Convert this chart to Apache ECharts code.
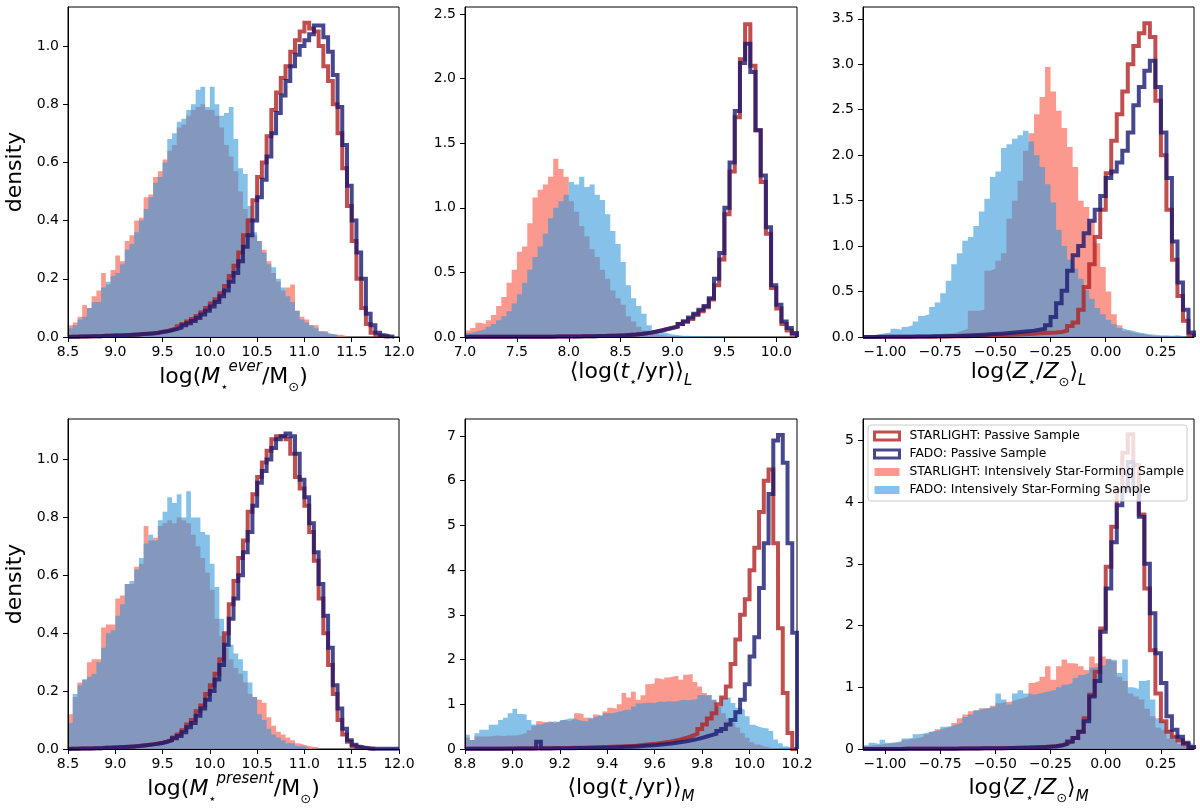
<!DOCTYPE html>
<html>
<head>
<meta charset="utf-8">
<script src="https://cdn.jsdelivr.net/npm/echarts@6/dist/echarts.min.js"></script>
<style>
html,body{margin:0;padding:0;background:#ffffff;}
#chart{width:1200px;height:808px;}
</style>
</head>
<body>
<div id="chart"></div>
<script>
// ================= DATA =================
// Series names
const nameSlPassive = 'STARLIGHT: Passive Sample';
const nameFaPassive = 'FADO: Passive Sample';
const nameSlSF = 'STARLIGHT: Intensively Star-Forming Sample';
const nameFaSF = 'FADO: Intensively Star-Forming Sample';

// ---- Panel 1: log(M_ever) ; bins start 8.5, width 0.05 ----
const mEverBinStart = 8.5, mEverBinWidth = 0.05;
const sfSlMEver = [0.04,0.05,0.07,0.11,0.10,0.14,0.16,0.22,0.18,0.23,
 0.28,0.26,0.33,0.35,0.40,0.41,0.48,0.49,0.55,0.57,
 0.61,0.64,0.66,0.72,0.73,0.76,0.78,0.79,0.80,0.78,
 0.78,0.76,0.72,0.66,0.62,0.57,0.50,0.44,0.41,0.35,
 0.33,0.30,0.26,0.22,0.19,0.16,0.17,0.18,0.09,0.07,
 0.06,0.04,0.04,0.02,0.02,0.01,0.008,0.008,0.003];
const sfFaMEver = [0.03,0.04,0.06,0.07,0.10,0.12,0.12,0.17,0.19,0.21,
 0.22,0.25,0.30,0.32,0.36,0.40,0.44,0.48,0.53,0.55,
 0.60,0.68,0.70,0.74,0.75,0.78,0.80,0.85,0.86,0.79,
 0.86,0.80,0.76,0.77,0.79,0.68,0.58,0.56,0.45,0.36,
 0.33,0.29,0.25,0.24,0.20,0.17,0.14,0.12,0.09,0.06,
 0.05,0.04,0.03,0.02,0.015,0.01,0.008];
const paSlMEver = [0.001,0.001,0.002,0.002,0.002,0.003,0.003,0.004,0.004,0.005,
 0.005,0.006,0.007,0.008,0.009,0.010,0.011,0.013,0.015,0.018,
 0.020,0.025,0.030,0.037,0.045,0.053,0.062,0.072,0.085,0.100,
 0.115,0.130,0.150,0.175,0.210,0.245,0.290,0.350,0.400,0.470,
 0.550,0.600,0.690,0.780,0.840,0.890,0.930,0.980,1.020,1.050,
 1.080,1.060,1.050,1.000,0.930,0.880,0.800,0.700,0.580,0.450,
 0.330,0.200,0.100,0.045,0.015,0.006,0.002,0.001];
const paFaMEver = [0.001,0.001,0.002,0.002,0.003,0.003,0.003,0.004,0.004,0.005,
 0.005,0.006,0.007,0.008,0.009,0.010,0.011,0.012,0.014,0.017,
 0.020,0.023,0.027,0.032,0.040,0.047,0.055,0.065,0.077,0.090,
 0.105,0.120,0.140,0.160,0.190,0.220,0.260,0.310,0.350,0.400,
 0.480,0.540,0.620,0.700,0.770,0.830,0.880,0.930,0.970,1.000,
 1.020,1.040,1.070,1.070,1.030,0.980,0.900,0.790,0.660,0.520,
 0.400,0.290,0.200,0.080,0.040,0.015,0.006,0.003,0.001];

// ---- Panel 2: <log t>_L ; bins start 7.0, width 0.05 ----
const tLBinStart = 7.0, tLBinWidth = 0.05;
const sfSlTL = [0.05,0.07,0.11,0.10,0.13,0.17,0.24,0.31,0.42,0.52,
 0.66,0.70,0.88,1.08,1.14,1.18,1.24,1.38,1.30,1.24,
 1.05,0.97,0.86,0.78,0.68,0.62,0.52,0.45,0.36,0.30,
 0.25,0.16,0.12,0.08,0.05,0.03,0.02,0.015,0.01,0.005,0.004];
const sfFaTL = [0.03,0.04,0.05,0.06,0.08,0.10,0.13,0.16,0.20,0.26,
 0.33,0.42,0.52,0.62,0.70,0.80,0.92,1.00,1.05,1.10,
 1.20,1.18,1.24,1.16,1.18,1.10,1.06,0.95,0.82,0.72,
 0.58,0.40,0.30,0.24,0.18,0.09,0.05,0.04,0.03,0.02,
 0.015,0.01,0.01,0.008,0.005,0.004,0.004,0.003,0.003,0.002,0.002];
const paSlTL = [0.001,0.001,0.001,0.001,0.001,0.001,0.001,0.001,0.001,0.001,
 0.001,0.001,0.002,0.002,0.002,0.002,0.002,0.003,0.003,0.003,
 0.004,0.004,0.005,0.005,0.006,0.007,0.008,0.009,0.010,0.012,
 0.014,0.016,0.019,0.023,0.028,0.034,0.042,0.050,0.060,0.070,
 0.08,0.10,0.12,0.14,0.17,0.20,0.23,0.29,0.40,0.60,
 0.95,1.28,1.70,2.15,2.42,2.10,1.60,1.20,0.80,0.38,
 0.22,0.10,0.05,0.02];
const paFaTL = [0.001,0.001,0.001,0.001,0.001,0.001,0.001,0.001,0.001,0.001,
 0.001,0.001,0.002,0.002,0.002,0.002,0.002,0.003,0.003,0.003,
 0.004,0.004,0.005,0.005,0.006,0.007,0.008,0.009,0.010,0.012,
 0.014,0.017,0.020,0.024,0.029,0.035,0.043,0.052,0.062,0.072,
 0.08,0.10,0.12,0.15,0.18,0.21,0.24,0.30,0.45,0.65,
 1.00,1.35,1.75,2.12,2.27,2.05,1.60,1.25,0.85,0.40,
 0.25,0.12,0.07,0.03];

// ---- Panel 3: log<Z>_L ; bins start -1.1, width 0.025 ----
const zLBinStart = -1.1, zLBinWidth = 0.025;
const sfSlZL = [0,0,0,0,0,0.005,0.005,0.01,0.01,0.01,
 0.02,0.02,0.03,0.03,0.04,0.04,0.05,0.07,0.09,0.29,
 0.29,0.30,0.73,0.75,0.84,0.92,1.30,1.50,1.72,2.05,
 2.24,2.45,2.64,2.97,2.70,2.49,2.30,2.09,1.87,1.50,
 1.43,1.28,1.03,0.77,0.50,0.25,0.13,0.07,0.05,0.04,
 0.03,0.02,0.01,0.01,0.005,0.005,0.003,0.002,0.001,0];
const sfFaZL = [0.01,0.02,0.03,0.04,0.05,0.09,0.08,0.11,0.13,0.17,
 0.23,0.25,0.33,0.38,0.48,0.62,0.80,0.92,1.06,1.10,
 1.22,1.38,1.52,1.76,1.82,2.08,2.12,2.18,2.22,2.27,
 2.15,2.00,1.87,1.68,1.48,1.18,1.00,0.85,0.75,0.64,
 0.52,0.42,0.32,0.25,0.19,0.14,0.10,0.08,0.07,0.05,
 0.04,0.03,0.025,0.02,0.02,0.015,0.02,0.01,0.01,0.005];
const paSlZL = [0.001,0.001,0.001,0.001,0.002,0.002,0.002,0.002,0.003,0.003,
 0.003,0.004,0.004,0.005,0.005,0.006,0.007,0.008,0.009,0.010,
 0.012,0.014,0.016,0.018,0.020,0.022,0.025,0.028,0.030,0.033,
 0.036,0.040,0.043,0.047,0.050,0.055,0.070,0.120,0.160,0.300,
 0.550,0.800,1.100,1.400,1.800,2.160,2.450,2.700,3.000,3.200,
 3.340,3.450,3.300,2.600,2.000,1.400,0.850,0.450,0.180,0.020];
const paFaZL = [0.001,0.001,0.002,0.002,0.002,0.003,0.003,0.004,0.004,0.005,
 0.005,0.006,0.007,0.008,0.009,0.010,0.012,0.014,0.016,0.019,
 0.022,0.025,0.029,0.033,0.037,0.042,0.047,0.052,0.058,0.064,
 0.070,0.080,0.090,0.130,0.220,0.370,0.510,0.730,0.900,1.000,
 1.140,1.280,1.400,1.550,1.750,1.820,1.920,2.050,2.250,2.550,
 2.750,2.930,3.040,2.750,2.250,1.750,1.050,0.600,0.300,0.050];

// ---- Panel 4: log(M_present) ; bins start 8.5, width 0.05 ----
const mPresBinStart = 8.5, mPresBinWidth = 0.05;
const sfSlMPres = [0.12,0.18,0.23,0.24,0.30,0.31,0.31,0.42,0.43,0.43,
 0.52,0.53,0.57,0.57,0.63,0.64,0.77,0.72,0.73,0.77,
 0.78,0.79,0.78,0.80,0.79,0.78,0.74,0.70,0.66,0.61,
 0.55,0.45,0.39,0.35,0.31,0.28,0.26,0.23,0.19,0.18,
 0.17,0.16,0.11,0.08,0.06,0.05,0.04,0.03,0.02,0.015,
 0.01,0.008,0.005];
const sfFaMPres = [0.09,0.19,0.22,0.24,0.25,0.26,0.30,0.35,0.40,0.41,
 0.46,0.50,0.57,0.58,0.62,0.66,0.71,0.74,0.72,0.79,
 0.82,0.87,0.85,0.88,0.80,0.89,0.80,0.80,0.75,0.74,
 0.64,0.56,0.45,0.40,0.36,0.33,0.31,0.27,0.23,0.18,
 0.12,0.10,0.07,0.05,0.04,0.03,0.02,0.02,0.01,0.01,0.005];
const paSlMPres = [0.001,0.001,0.002,0.002,0.002,0.003,0.003,0.004,0.004,0.005,
 0.006,0.007,0.008,0.009,0.010,0.012,0.014,0.016,0.019,0.022,
 0.026,0.032,0.040,0.050,0.065,0.085,0.100,0.130,0.150,0.190,
 0.220,0.260,0.310,0.400,0.500,0.580,0.660,0.720,0.820,0.880,
 0.940,0.990,1.030,1.070,1.080,1.080,1.070,1.020,0.940,0.900,
 0.840,0.750,0.650,0.520,0.400,0.290,0.190,0.100,0.050,0.025,
 0.010,0.005,0.003,0.002,0.001];
const paFaMPres = [0.001,0.001,0.002,0.002,0.002,0.003,0.003,0.004,0.004,0.005,
 0.006,0.007,0.008,0.009,0.010,0.012,0.014,0.016,0.018,0.021,
 0.025,0.030,0.037,0.045,0.058,0.075,0.090,0.115,0.140,0.170,
 0.200,0.240,0.290,0.360,0.450,0.520,0.600,0.680,0.750,0.840,
 0.920,0.960,1.000,1.040,1.070,1.080,1.090,1.080,1.020,0.930,
 0.870,0.780,0.680,0.570,0.460,0.350,0.220,0.140,0.070,0.030,
 0.015,0.008,0.004,0.002,0.001,0.001,0.001,0.001,0.001,0.001];

// ---- Panel 5: <log t>_M ; bins start 8.8, width 0.02 ----
const tMBinStart = 8.8, tMBinWidth = 0.02;
const sfSlTM = [0.25,0.20,0.28,0.28,0.28,0.29,0.30,0.29,0.30,0.30,
 0.31,0.33,0.36,0.42,0.52,0.62,0.60,0.62,0.58,0.62,
 0.66,0.62,0.66,0.80,0.78,0.70,0.66,0.77,0.75,0.84,
 0.92,0.90,1.00,1.25,1.15,1.28,1.10,1.20,1.45,1.47,
 1.58,1.55,1.60,1.62,1.64,1.55,1.66,1.68,1.50,1.40,
 1.25,1.20,1.10,0.95,0.80,0.68,0.58,0.48,0.36,0.25,
 0.15,0.10,0.06,0.04,0.02,0.01];
const sfFaTM = [0.32,0.20,0.35,0.43,0.43,0.54,0.55,0.65,0.70,0.80,
 0.90,0.78,0.77,0.65,0.55,0.55,0.58,0.60,0.62,0.60,
 0.65,0.68,0.69,0.65,0.62,0.62,0.70,0.73,0.74,0.80,
 0.80,0.82,0.85,0.88,0.88,0.95,1.02,1.03,1.04,1.03,
 1.06,1.05,1.07,1.06,1.08,1.10,1.09,1.10,1.12,1.21,
 1.20,1.21,1.10,0.95,1.14,1.16,1.03,0.92,0.88,0.73,
 0.54,0.50,0.47,0.46,0.40,0.21,0.13,0.06,0.03,0.01];
const paSlTM = [0.005,0.005,0.006,0.006,0.007,0.007,0.008,0.008,0.009,0.010,
 0.010,0.011,0.012,0.013,0.014,0.015,0.016,0.017,0.018,0.020,
 0.022,0.024,0.026,0.028,0.030,0.033,0.036,0.039,0.042,0.046,
 0.050,0.054,0.058,0.063,0.068,0.075,0.085,0.095,0.105,0.115,
 0.130,0.145,0.160,0.180,0.200,0.230,0.260,0.300,0.340,0.450,
 0.550,0.680,0.800,1.000,1.150,1.400,1.900,2.450,3.000,3.350,
 4.000,4.500,5.300,6.000,6.250,4.600,2.700,1.250,0.360,0.000];
const paFaTM = [0.004,0.004,0.005,0.005,0.006,0.006,0.007,0.007,0.008,0.008,
 0.009,0.009,0.010,0.010,0.011,0.160,0.012,0.013,0.014,0.015,
 0.016,0.017,0.018,0.020,0.022,0.024,0.026,0.028,0.030,0.033,
 0.036,0.040,0.044,0.048,0.053,0.058,0.064,0.070,0.077,0.085,
 0.095,0.105,0.115,0.130,0.145,0.160,0.180,0.200,0.220,0.250,
 0.280,0.310,0.340,0.400,0.450,0.550,0.650,0.820,1.100,1.450,
 2.070,2.500,3.600,4.600,5.700,6.900,7.020,6.400,4.600,2.600];

// ---- Panel 6: log<Z>_M ; bins start -1.1, width 0.025 ----
const zMBinStart = -1.1, zMBinWidth = 0.025;
const sfSlZM = [0.05,0.06,0.07,0.08,0.09,0.10,0.11,0.15,0.16,0.18,
 0.20,0.24,0.28,0.32,0.34,0.36,0.42,0.50,0.56,0.61,
 0.62,0.66,0.66,0.70,0.74,0.76,0.77,0.80,0.82,0.85,
 1.07,1.10,1.17,1.34,1.12,1.34,1.45,1.39,1.38,1.34,
 1.28,1.50,1.39,1.50,1.46,1.42,1.17,1.10,0.90,0.85,
 0.80,0.65,0.53,0.35,0.31,0.17,0.14,0.08,0.06,0.04];
const sfFaZM = [0.06,0.10,0.08,0.15,0.10,0.11,0.13,0.17,0.18,0.24,
 0.25,0.27,0.29,0.30,0.36,0.37,0.40,0.43,0.52,0.56,
 0.63,0.65,0.67,0.68,0.90,0.80,0.72,0.90,0.95,0.90,
 0.88,0.90,0.92,0.94,0.96,1.00,1.04,1.07,1.15,1.20,
 1.23,1.32,1.34,1.36,1.45,1.44,1.23,1.45,1.00,0.97,
 1.10,1.12,0.80,0.50,0.45,0.31,0.22,0.18,0.10,0.08];
const paSlZM = [0.001,0.001,0.001,0.002,0.002,0.002,0.002,0.003,0.003,0.003,
 0.004,0.004,0.004,0.005,0.005,0.006,0.006,0.007,0.008,0.009,
 0.010,0.011,0.012,0.013,0.014,0.015,0.017,0.019,0.021,0.024,
 0.027,0.030,0.034,0.040,0.045,0.060,0.090,0.120,0.180,0.280,
 0.500,0.880,1.250,1.950,2.950,3.600,4.200,4.800,5.100,4.600,
 3.800,2.600,1.600,0.900,0.450,0.280,0.200,0.140,0.080,0.030];
const paFaZM = [0.001,0.001,0.001,0.002,0.002,0.002,0.002,0.003,0.003,0.003,
 0.004,0.004,0.004,0.005,0.005,0.006,0.006,0.007,0.008,0.009,
 0.010,0.011,0.012,0.012,0.013,0.014,0.015,0.017,0.019,0.022,
 0.025,0.028,0.032,0.037,0.043,0.055,0.080,0.120,0.180,0.280,
 0.450,0.850,1.100,1.900,2.600,3.350,3.950,4.200,4.650,4.200,
 3.760,3.000,2.200,1.550,1.070,0.530,0.310,0.200,0.100,0.030];

// ---- Tick values ----
const massTicksX = [8.5, 9.0, 9.5, 10.0, 10.5, 11.0, 11.5, 12.0];
const tLTicksX = [7.0, 7.5, 8.0, 8.5, 9.0, 9.5, 10.0];
const zTicksX = [-1.0, -0.75, -0.5, -0.25, 0, 0.25];
const tMTicksX = [8.8, 9.0, 9.2, 9.4, 9.6, 9.8, 10.0, 10.2];
const densityTicksY = [0, 0.2, 0.4, 0.6, 0.8, 1.0];
const tLTicksY = [0, 0.5, 1.0, 1.5, 2.0, 2.5];
const zLTicksY = [0, 0.5, 1.0, 1.5, 2.0, 2.5, 3.0, 3.5];
const tMTicksY = [0, 1, 2, 3, 4, 5, 6, 7];
const zMTicksY = [0, 1, 2, 3, 4, 5];

// ================= STYLE / LAYOUT =================
const FONT = 'DejaVu Sans';
const COL_SL_SF = 'rgb(250,128,114)';
const COL_FA_SF = 'rgb(52,152,219)';
const COL_SL_PA = 'rgb(178,34,34)';
const COL_FA_PA = 'rgb(25,25,112)';

const richName = {
  n: {fontSize: 22, fontFamily: FONT, color: '#000', lineHeight: 34},
  i: {fontSize: 22, fontFamily: FONT, fontStyle: 'italic', color: '#000', lineHeight: 34},
  sub: {fontSize: 13, fontFamily: FONT, color: '#000', verticalAlign: 'bottom', lineHeight: 15},
  subi: {fontSize: 15, fontFamily: FONT, fontStyle: 'italic', color: '#000', verticalAlign: 'bottom', lineHeight: 15},
  supi: {fontSize: 15, fontFamily: FONT, fontStyle: 'italic', color: '#000', verticalAlign: 'top', lineHeight: 15}
};

const fmt1 = v => v.toFixed(1);
const fmt0 = v => v.toFixed(0);
const fmtZ = v => (v < 0 ? '\u2212' : '') + Math.abs(v).toFixed(2);

const panels = [
  {grid: {left: 68, top: 7, width: 331, height: 330}, xr: [8.5, 12], yr: [0, 1.134],
   xt: massTicksX, yt: densityTicksY, xf: fmt1, yf: fmt1, gap: 18, yName: 'density',
   title: '{n|log(}{i|M}{sub|\u22c6}{supi|ever}{n|/M}{sub|\u2299}{n|)}',
   bs: mEverBinStart, bw: mEverBinWidth, d: [sfSlMEver, sfFaMEver, paSlMEver, paFaMEver]},
  {grid: {left: 465, top: 7, width: 332, height: 330}, xr: [7.0, 10.2], yr: [0, 2.554],
   xt: tLTicksX, yt: tLTicksY, xf: fmt1, yf: fmt1, gap: 18, yName: '',
   title: '{n|\u27e8log(}{i|t}{sub|\u22c6}{n|/yr)\u27e9}{subi|L}',
   bs: tLBinStart, bw: tLBinWidth, d: [sfSlTL, sfFaTL, paSlTL, paFaTL]},
  {grid: {left: 863, top: 7, width: 331, height: 330}, xr: [-1.1, 0.4], yr: [0, 3.63],
   xt: zTicksX, yt: zLTicksY, xf: fmtZ, yf: fmt1, gap: 18, yName: '',
   title: '{n|log\u27e8}{i|Z}{sub|\u22c6}{n|/}{i|Z}{sub|\u2299}{n|\u27e9}{subi|L}',
   bs: zLBinStart, bw: zLBinWidth, d: [sfSlZL, sfFaZL, paSlZL, paFaZL]},
  {grid: {left: 68, top: 419, width: 331, height: 330}, xr: [8.5, 12], yr: [0, 1.14],
   xt: massTicksX, yt: densityTicksY, xf: fmt1, yf: fmt1, gap: 22, yName: 'density',
   title: '{n|log(}{i|M}{sub|\u22c6}{supi|present}{n|/M}{sub|\u2299}{n|)}',
   bs: mPresBinStart, bw: mPresBinWidth, d: [sfSlMPres, sfFaMPres, paSlMPres, paFaMPres]},
  {grid: {left: 465, top: 419, width: 332, height: 330}, xr: [8.8, 10.2], yr: [0, 7.38],
   xt: tMTicksX, yt: tMTicksY, xf: fmt1, yf: fmt0, gap: 22, yName: '',
   title: '{n|\u27e8log(}{i|t}{sub|\u22c6}{n|/yr)\u27e9}{subi|M}',
   bs: tMBinStart, bw: tMBinWidth, d: [sfSlTM, sfFaTM, paSlTM, paFaTM]},
  {grid: {left: 863, top: 419, width: 331, height: 330}, xr: [-1.1, 0.4], yr: [0, 5.345],
   xt: zTicksX, yt: zMTicksY, xf: fmtZ, yf: fmt0, gap: 22, yName: '',
   title: '{n|log\u27e8}{i|Z}{sub|\u22c6}{n|/}{i|Z}{sub|\u2299}{n|\u27e9}{subi|M}',
   bs: zMBinStart, bw: zMBinWidth, d: [sfSlZM, sfFaZM, paSlZM, paFaZM]}
];

// Build step-histogram points from bin start, bin width and bin heights
function histPoints(values, start, width) {
  const pts = [[start, 0]];
  for (let i = 0; i < values.length; i++) {
    pts.push([+(start + i * width).toFixed(5), values[i]]);
  }
  pts.push([+(start + values.length * width).toFixed(5), 0]);
  return pts;
}

const grids = [], xAxes = [], yAxes = [], series = [];
panels.forEach((p, k) => {
  grids.push(Object.assign({show: true, borderColor: '#000', borderWidth: 1, backgroundColor: 'transparent', containLabel: false}, p.grid));
  xAxes.push({
    type: 'value', gridIndex: k, min: p.xr[0], max: p.xr[1], z: 5,
    axisLine: {show: true, onZero: false, lineStyle: {color: '#000', width: 1}},
    axisTick: {show: true, inside: false, length: 5, lineStyle: {color: '#000', width: 1}, customValues: p.xt},
    axisLabel: {show: true, customValues: p.xt, formatter: p.xf, fontSize: 14, fontFamily: FONT, color: '#000', margin: 8,
      hideOverlap: false, showMinLabel: true, showMaxLabel: true},
    splitLine: {show: false},
    name: p.title, nameLocation: 'middle', nameGap: p.gap,
    nameTextStyle: {fontSize: 22, fontFamily: FONT, color: '#000', rich: richName}
  });
  yAxes.push({
    type: 'value', gridIndex: k, min: p.yr[0], max: p.yr[1], z: 5,
    axisLine: {show: true, onZero: false, lineStyle: {color: '#000', width: 1}},
    axisTick: {show: true, inside: false, length: 5, lineStyle: {color: '#000', width: 1}, customValues: p.yt},
    axisLabel: {show: true, customValues: p.yt, formatter: p.yf, fontSize: 14, fontFamily: FONT, color: '#000', margin: 9,
      showMinLabel: true, showMaxLabel: true},
    splitLine: {show: false},
    name: p.yName, nameLocation: 'middle', nameGap: 42, nameRotate: 90,
    nameTextStyle: {fontSize: 22, fontFamily: FONT, color: '#000'}
  });
  const common = {type: 'line', xAxisIndex: k, yAxisIndex: k, step: 'end', symbol: 'none', showSymbol: false,
    silent: true, animation: false, clip: true};
  series.push(Object.assign({}, common, {
    name: nameSlSF, data: histPoints(p.d[0], p.bs, p.bw), z: 2,
    itemStyle: {color: COL_SL_SF},
    lineStyle: {width: 0, opacity: 0},
    areaStyle: {color: COL_SL_SF, opacity: 0.8}
  }));
  series.push(Object.assign({}, common, {
    name: nameFaSF, data: histPoints(p.d[1], p.bs, p.bw), z: 2,
    itemStyle: {color: COL_FA_SF},
    lineStyle: {width: 0, opacity: 0},
    areaStyle: {color: COL_FA_SF, opacity: 0.6}
  }));
  series.push(Object.assign({}, common, {
    name: nameSlPassive, data: histPoints(p.d[2], p.bs, p.bw), z: 3,
    itemStyle: {color: COL_SL_PA},
    lineStyle: {color: COL_SL_PA, width: 4, opacity: 0.8, join: 'miter', cap: 'butt'}
  }));
  series.push(Object.assign({}, common, {
    name: nameFaPassive, data: histPoints(p.d[3], p.bs, p.bw), z: 3,
    itemStyle: {color: COL_FA_PA},
    lineStyle: {color: COL_FA_PA, width: 4, opacity: 0.8, join: 'miter', cap: 'butt'}
  }));
});

const chart = echarts.init(document.getElementById('chart'), null, {renderer: 'canvas'});
chart.setOption({
  backgroundColor: '#ffffff',
  animation: false,
  grid: grids,
  xAxis: xAxes,
  yAxis: yAxes,
  legend: {
    show: true, orient: 'vertical', left: 868, top: 425, z: 10,
    selectedMode: false,
    itemWidth: 25, itemHeight: 8, itemGap: 4,
    padding: [4, 3, 4, 5],
    backgroundColor: 'rgba(255,255,255,0.8)', borderColor: '#cccccc', borderWidth: 1, borderRadius: 3,
    textStyle: {fontSize: 12.3, fontFamily: FONT, color: '#000', lineHeight: 14, padding: [0, 0, 0, 5]},
    data: [
      {name: nameSlPassive, icon: 'rect', itemStyle: {color: '#ffffff', borderColor: 'rgba(178,34,34,0.8)', borderWidth: 3, opacity: 1}},
      {name: nameFaPassive, icon: 'rect', itemStyle: {color: '#ffffff', borderColor: 'rgba(25,25,112,0.8)', borderWidth: 3, opacity: 1}},
      {name: nameSlSF, icon: 'rect', itemStyle: {color: 'rgba(250,128,114,0.8)', borderWidth: 0, opacity: 1}},
      {name: nameFaSF, icon: 'rect', itemStyle: {color: 'rgba(52,152,219,0.6)', borderWidth: 0, opacity: 1}}
    ]
  },
  series: series
});
</script>
</body>
</html>
